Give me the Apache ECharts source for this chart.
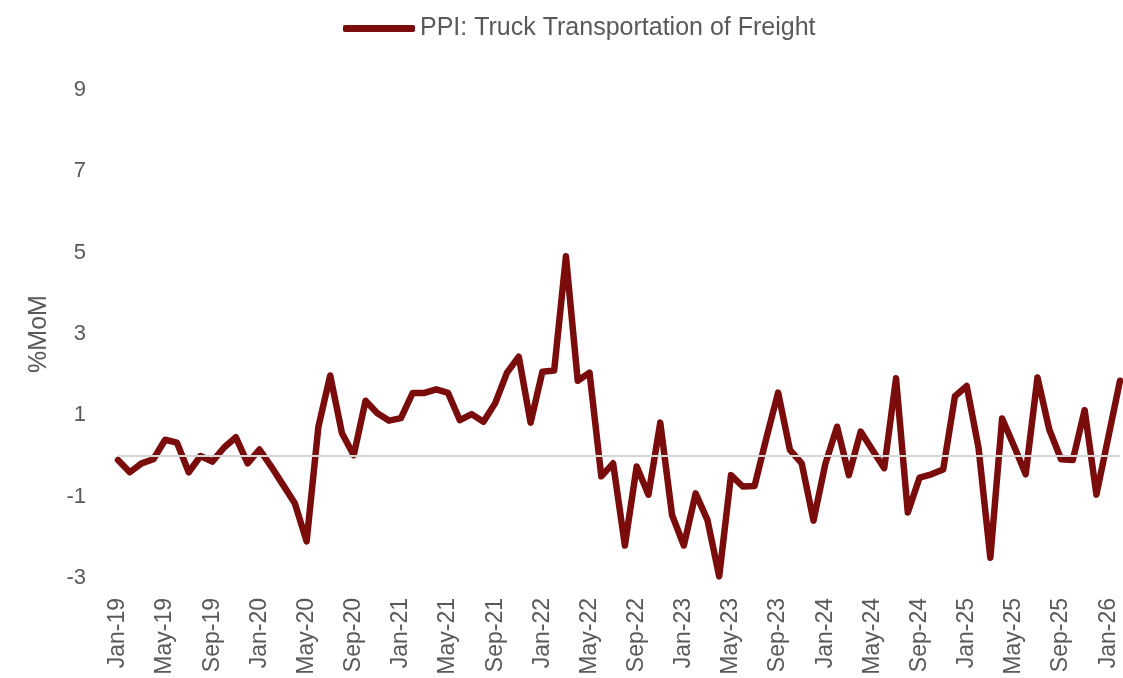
<!DOCTYPE html>
<html>
<head>
<meta charset="utf-8">
<script src="https://cdn.jsdelivr.net/npm/echarts@6/dist/echarts.min.js"></script>
<style>
  html, body { margin: 0; padding: 0; background: #fff; }
  #chart { width: 1123px; height: 678px; }
</style>
</head>
<body>
<div id="chart"></div>
<script>
// monthly categories Jan-19 .. Feb-26
var monthNames = ['Jan', 'Feb', 'Mar', 'Apr', 'May', 'Jun', 'Jul', 'Aug', 'Sep', 'Oct', 'Nov', 'Dec'];
var startYear = 19, monthCount = 86;

// PPI: Truck Transportation of Freight, % MoM
var ppiTruck = [
    -0.1, -0.4, -0.18, -0.08, 0.4, 0.33, -0.4, 0.0, -0.14, 0.21, 0.46, -0.18,
    0.16, -0.26, -0.71, -1.16, -2.1, 0.72, 1.98, 0.56, 0.02, 1.36, 1.05, 0.87,
    0.93, 1.55, 1.55, 1.64, 1.55, 0.88, 1.03, 0.84, 1.3, 2.05, 2.44, 0.82,
    2.07, 2.1, 4.91, 1.85, 2.05, -0.5, -0.18, -2.2, -0.26, -0.95, 0.82, -1.45,
    -2.2, -0.92, -1.57, -2.96, -0.47, -0.75, -0.74, 0.44, 1.56, 0.15, -0.18, -1.59,
    -0.2, 0.72, -0.47, 0.6, 0.15, -0.3, 1.91, -1.39, -0.53, -0.45, -0.33, 1.47,
    1.72, 0.2, -2.5, 0.92, 0.25, -0.45, 1.93, 0.65, -0.08, -0.1, 1.13, -0.95,
    0.45, 1.85
];

var yTicks = { min: -3, max: 9, interval: 2 };

var categories = [];
for (var i = 0; i < monthCount; i++) {
    categories.push(monthNames[i % 12] + '-' + (startYear + Math.floor(i / 12)));
}

var lineColor = '#7a0c0c';
var textColor = '#595959';
var font = "'Liberation Sans', Arial, sans-serif";

var chart = echarts.init(document.getElementById('chart'));
chart.setOption({
    animation: false,
    backgroundColor: '#fff',
    legend: {
        top: 11,
        left: 338,
        icon: 'roundRect',
        itemWidth: 72,
        itemHeight: 7,
        textStyle: { color: textColor, fontSize: 25, fontFamily: font },
        data: ['PPI: Truck Transportation of Freight']
    },
    grid: { left: 118, right: 3, top: 90, bottom: 100 },
    xAxis: {
        type: 'category',
        data: categories,
        boundaryGap: false,
        axisLine: { show: false },
        axisTick: { show: false },
        axisLabel: {
            interval: 3,
            rotate: 90,
            margin: 20,
            color: textColor,
            fontSize: 23,
            fontFamily: font
        }
    },
    yAxis: {
        type: 'value',
        min: yTicks.min,
        max: yTicks.max,
        interval: yTicks.interval,
        name: '%MoM',
        nameLocation: 'middle',
        nameGap: 66,
        nameTextStyle: { color: textColor, fontSize: 25, fontFamily: font },
        axisLine: { show: false },
        axisTick: { show: false },
        splitLine: { show: false },
        axisLabel: { color: textColor, fontSize: 22, fontFamily: font, margin: 32 }
    },
    series: [{
        name: 'PPI: Truck Transportation of Freight',
        type: 'line',
        data: ppiTruck,
        showSymbol: false,
        symbol: 'none',
        color: lineColor,
        lineStyle: { color: lineColor, width: 6.5, cap: 'round', join: 'round' },
        markLine: {
            silent: true,
            symbol: 'none',
            label: { show: false },
            lineStyle: { color: '#d6d6d6', width: 2, type: 'solid' },
            data: [{ yAxis: 0 }]
        }
    }]
});
</script>
</body>
</html>
